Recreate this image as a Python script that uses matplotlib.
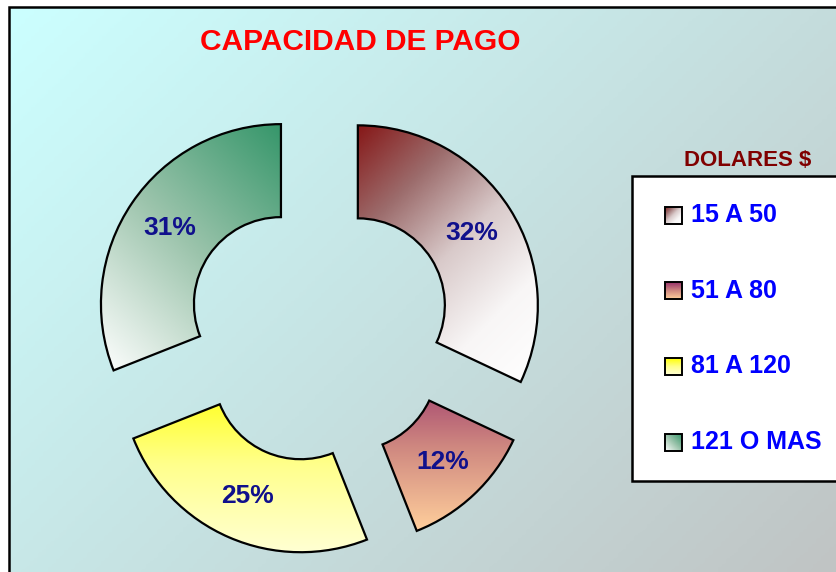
import numpy as np
import matplotlib
matplotlib.use('Agg')
import matplotlib.pyplot as plt
from matplotlib.colors import LinearSegmentedColormap
from matplotlib.patches import Rectangle

W, H = 837, 572

categories = ['15 A 50', '51 A 80', '81 A 120', '121 O MAS']
shares = [32, 12, 25, 31]

title = 'CAPACIDAD DE PAGO'
legend_title = 'DOLARES $'

# colour ramps for each slice (start -> end)
ramps = [
    ['#861818', '#9c6c6c', '#d9caca', '#f8f6f6', '#ffffff'],
    ['#96306a', '#cf8880', '#ffcf9c'],
    ['#ffff00', '#ffff8c', '#ffffd6'],
    ['#35966a', '#9cc4ac', '#ffffff'],
]
# where the ramp starts: tl = top-left corner, tr = top-right, top = top edge
ramp_dir = ['tl', 'top', 'top', 'tr']

plt.rcParams['font.family'] = ['Liberation Sans', 'DejaVu Sans']


def ramp(x0, x1, y0, y1, how, n=200):
    X, Y = np.meshgrid(np.linspace(x0, x1, n), np.linspace(y0, y1, n))
    if how == 'tl':
        t = ((X - x0) + (y1 - Y)) / ((x1 - x0) + (y1 - y0))
    elif how == 'tr':
        t = ((x1 - X) + (y1 - Y)) / ((x1 - x0) + (y1 - y0))
    else:
        t = (y1 - Y) / (y1 - y0)
    return t


def fill_grad(ax, patch, colors, how, z):
    v = patch.get_patch_transform().transform(patch.get_path().vertices)
    x0, y0 = v.min(axis=0)
    x1, y1 = v.max(axis=0)
    cm = LinearSegmentedColormap.from_list('g', colors)
    im = ax.imshow(ramp(x0, x1, y0, y1, how), extent=[x0, x1, y0, y1],
                   origin='lower', cmap=cm, vmin=0, vmax=1,
                   interpolation='bilinear', zorder=z)
    im.set_clip_path(patch)
    return im


fig = plt.figure(figsize=(W / 100, H / 100), dpi=100)
fig.patch.set_facecolor('white')
ax = fig.add_axes([0, 0, 1, 1])

# plot area background with frame
frame = Rectangle((9, -5), W, H - 7 + 5, facecolor='none',
                  edgecolor='black', linewidth=1.8, zorder=-5)
ax.add_patch(frame)
bg_cm = LinearSegmentedColormap.from_list('bg', ['#ccffff', '#c6e2e2', '#c0c4c4'])
bg = ax.imshow(ramp(9, W, 0, H - 7, 'tl'), extent=[9, W, 0, H - 7],
               origin='lower', cmap=bg_cm, vmin=0, vmax=1, zorder=-10)
bg.set_clip_path(frame)

# exploded doughnut
wedges, _, pct = ax.pie(
    shares, radius=180, center=(319, H - 330), startangle=90,
    counterclock=False, explode=[46] * len(shares),
    autopct=lambda p: '%d%%' % round(p), pctdistance=0.75, frame=True,
    wedgeprops=dict(width=93, facecolor='none', edgecolor='black',
                    linewidth=1.6, zorder=2))

for w, cols, how in zip(wedges, ramps, ramp_dir):
    fill_grad(ax, w, cols, how, 1)

for t in pct:
    t.set_color('#10108c')
    t.set_fontsize(19)
    t.set_fontweight('bold')
    t.set_zorder(5)

# title, letters spread a little
tt = ax.text(360, H - 42, title, ha='center', va='center', color='red',
             fontsize=21.5, fontweight='bold')

# legend
ax.text(748, H - 160, legend_title, ha='center', va='center',
        color='#800000', fontsize=16, fontweight='bold')
box = Rectangle((632, H - 481), W - 632 + 20, 481 - 176, facecolor='white',
                edgecolor='black', linewidth=1.8, zorder=3)
ax.add_patch(box)

for i, name in enumerate(categories):
    yc = H - (215 + i * 75.7)
    sw = Rectangle((665, yc - 8.5), 17, 17, facecolor='none',
                   edgecolor='black', linewidth=1.4, zorder=5)
    ax.add_patch(sw)
    fill_grad(ax, sw, ramps[i], ramp_dir[i], 4)
    ax.text(691, yc, name, ha='left', va='center', color='#0000ff',
            fontsize=18, fontweight='bold', zorder=6)

ax.set_xlim(0, W)
ax.set_ylim(0, H)
ax.set_aspect('auto')
ax.axis('off')

fig.savefig('out.png', dpi=100)
